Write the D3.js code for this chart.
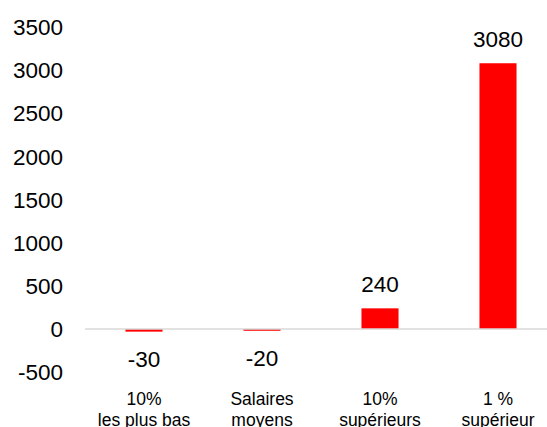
<!DOCTYPE html>
<html>
<head>
<meta charset="utf-8">
<script src="https://cdnjs.cloudflare.com/ajax/libs/d3/7.8.5/d3.min.js"></script>
<style>
body{margin:0;background:#fff}
text{font-family:"Liberation Sans",Arial,sans-serif;fill:#000}
</style>
</head>
<body>
<svg></svg>
<script>
var categories = [["10%","les plus bas"],["Salaires","moyens"],["10%","supérieurs"],["1 %","supérieur"]]
var values = [-30, -20, 240, 3080]
var ticks = [-500, 0, 500, 1000, 1500, 2000, 2500, 3000, 3500]

var screen = {width:547, height:427}
var svg = d3.select("svg").attr("width", screen.width).attr("height", screen.height)

var xScale = d3.scaleBand()
    .domain(d3.range(values.length))
    .range([85, 557])
    .paddingInner(0.686)
    .paddingOuter(0.343)

var yScale = d3.scaleLinear()
    .domain([-500, 3500])
    .range([372.2, 27])

// y tick labels, no axis line
svg.append("g")
    .selectAll("text")
    .data(ticks)
    .enter()
    .append("text")
    .attr("x", 63)
    .attr("y", function(d){return yScale(d)})
    .attr("dy", "0.36em")
    .attr("text-anchor", "end")
    .style("font-size", "22.5px")
    .text(function(d){return d})

// bars
svg.append("g")
    .selectAll("rect")
    .data(values)
    .enter()
    .append("rect")
    .attr("x", function(d,i){return xScale(i)})
    .attr("width", xScale.bandwidth())
    .attr("y", function(d){return yScale(Math.max(0,d))})
    .attr("height", function(d){return Math.abs(yScale(d)-yScale(0))})
    .attr("fill", "#ff0000")

// zero line
svg.append("line")
    .attr("x1", 85).attr("x2", screen.width)
    .attr("y1", yScale(0)).attr("y2", yScale(0))
    .attr("stroke", "#d9d9d9")
    .attr("stroke-width", 1.5)

// value labels
svg.append("g")
    .selectAll("text")
    .data(values)
    .enter()
    .append("text")
    .attr("x", function(d,i){return xScale(i)+xScale.bandwidth()/2})
    .attr("y", function(d){return d>=0 ? yScale(d)-16 : yScale(d)+35})
    .attr("text-anchor", "middle")
    .style("font-size", "22.5px")
    .text(function(d){return d})

// category labels
var cat = svg.append("g")
    .selectAll("text")
    .data(categories)
    .enter()
    .append("text")
    .attr("text-anchor", "middle")
    .style("font-size", "17.5px")
    .attr("transform", function(d,i){return "translate("+(xScale(i)+xScale.bandwidth()/2)+",405)"})

cat.selectAll("tspan")
    .data(function(d){return d})
    .enter()
    .append("tspan")
    .attr("x", 0)
    .attr("y", function(d,j){return j*21})
    .text(function(d){return d})
</script>
</body>
</html>
